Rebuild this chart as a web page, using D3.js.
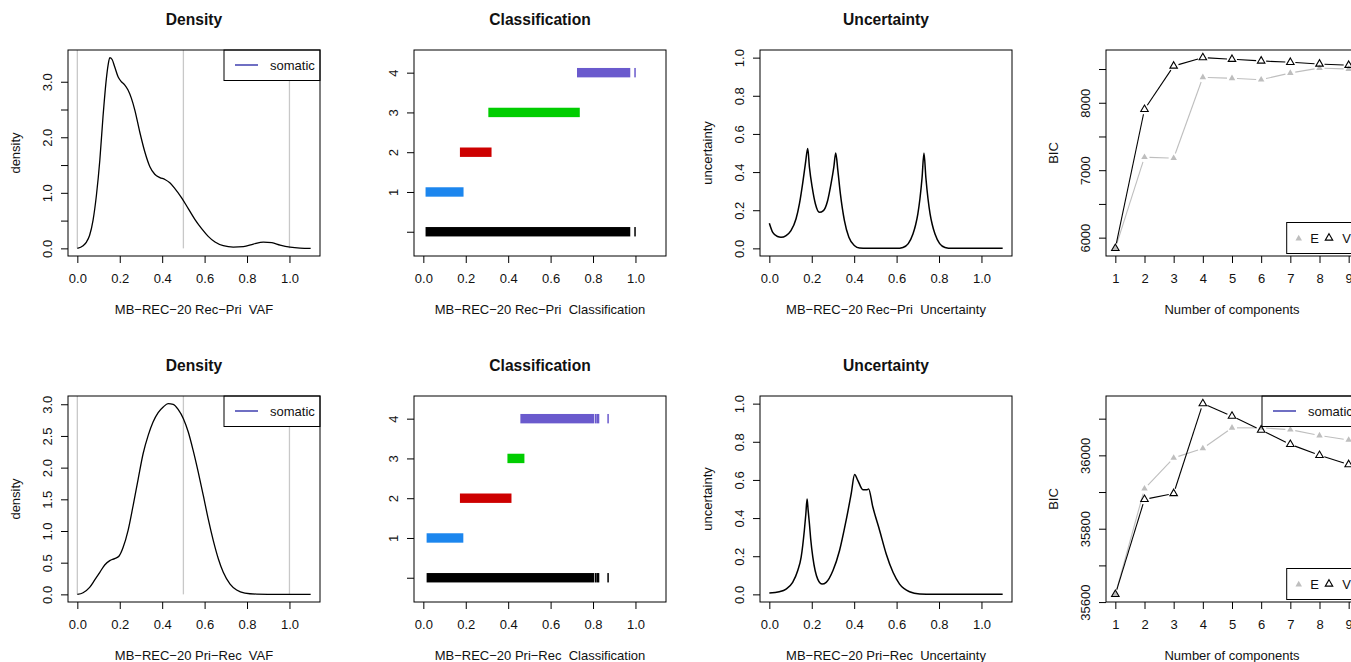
<!DOCTYPE html>
<html>
<head>
<meta charset="utf-8">
<script src="https://cdn.jsdelivr.net/npm/d3@7"></script>
<style>
body{margin:0;background:#fff;overflow:hidden;}
text{font-family:"Liberation Sans",Arial,Helvetica,sans-serif;fill:#111;white-space:pre;}
</style>
</head>
<body>
<script>
// values

var samples = ["MB\u2212REC\u221220 Rec\u2212Pri", "MB\u2212REC\u221220 Pri\u2212Rec"];

// density curves (VAF grid / density)
var vafTop = [0,0.027,0.043,0.058,0.074,0.09,0.106,0.121,0.137,0.145,0.153,0.164,0.176,0.192,0.208,0.224,0.239,0.255,0.271,0.294,0.318,0.342,0.365,0.389,0.413,0.436,0.46,0.491,0.523,0.554,0.586,0.617,0.649,0.688,0.735,0.783,0.83,0.877,0.917,0.956,1.003,1.05,1.1];
var densTop = [0,0.048,0.114,0.235,0.505,0.956,1.587,2.369,3.061,3.30,3.434,3.40,3.27,3.09,3.0,2.94,2.85,2.70,2.49,2.10,1.74,1.47,1.335,1.275,1.24,1.18,1.076,0.914,0.716,0.523,0.355,0.216,0.114,0.048,0.024,0.03,0.078,0.114,0.102,0.06,0.024,0.006,0];
var vafBot = [0,0.027,0.058,0.082,0.106,0.129,0.153,0.176,0.197,0.216,0.239,0.263,0.287,0.31,0.334,0.357,0.381,0.405,0.428,0.452,0.476,0.5,0.523,0.546,0.57,0.594,0.617,0.641,0.665,0.688,0.72,0.751,0.79,0.846,0.95,1.1];
var densBot = [0,0.026,0.11,0.227,0.348,0.464,0.532,0.564,0.606,0.743,1.007,1.402,1.824,2.219,2.509,2.72,2.868,2.957,3.01,3.0,2.915,2.773,2.562,2.272,1.929,1.56,1.191,0.849,0.559,0.348,0.163,0.069,0.021,0.005,0,0];
var vafRefLines = [0, 0.5, 1.0];

// uncertainty curves
var uncXTop = [0,0.016,0.039,0.055,0.079,0.102,0.126,0.142,0.157,0.17,0.181,0.189,0.202,0.217,0.236,0.255,0.275,0.291,0.304,0.313,0.323,0.335,0.354,0.375,0.402,0.425,0.46,0.6,0.63,0.655,0.677,0.69,0.7,0.71,0.72,0.729,0.738,0.748,0.758,0.768,0.781,0.803,0.828,0.86,1.1];
var uncTop  = [0.132,0.084,0.062,0.058,0.067,0.093,0.155,0.234,0.339,0.444,0.523,0.426,0.321,0.234,0.189,0.198,0.251,0.339,0.426,0.5,0.409,0.286,0.146,0.058,0.014,0.002,0,0,0.005,0.025,0.075,0.125,0.18,0.26,0.37,0.5,0.37,0.26,0.18,0.125,0.075,0.025,0.005,0,0];
var uncXBot = [0,0.047,0.079,0.11,0.134,0.15,0.165,0.172,0.178,0.183,0.189,0.195,0.205,0.228,0.249,0.268,0.3,0.331,0.362,0.386,0.402,0.417,0.441,0.461,0.468,0.488,0.52,0.551,0.583,0.614,0.661,0.709,0.772,1.1];
var uncBot  = [0.007,0.014,0.028,0.063,0.125,0.195,0.335,0.42,0.5,0.44,0.37,0.29,0.195,0.08,0.054,0.063,0.125,0.23,0.388,0.528,0.628,0.598,0.549,0.549,0.553,0.458,0.335,0.212,0.116,0.054,0.014,0.002,0,0];

// classification: VAF spans per row (row 0 = all variants, rows 1-4 = clusters)
var classRows = [0, 1, 2, 3, 4];
var classSpansTop = [
  [[0.014,0.972],[0.998,0.998]],
  [[0.014,0.186]],
  [[0.176,0.318]],
  [[0.31,0.734]],
  [[0.728,0.972],[0.998,0.998]]
];
var classSpansBot = [
  [[0.019,0.802],[0.812,0.814],[0.822,0.826],[0.871,0.871]],
  [[0.019,0.185]],
  [[0.176,0.412]],
  [[0.40,0.473]],
  [[0.461,0.802],[0.812,0.814],[0.822,0.826],[0.871,0.871]]
];

// BIC by number of components, models E and V
var components = [1, 2, 3, 4, 5, 6, 7, 8, 9];
var bicETop = [5841, 7193, 7178, 8377, 8362, 8342, 8441, 8515, 8500];
var bicVTop = [5841, 7902, 8545, 8669, 8645, 8620, 8600, 8575, 8556];
var bicEBot = [35621, 35909, 35993, 36019, 36075, 36075, 36070, 36054, 36042];
var bicVBot = [35621, 35880, 35896, 36141, 36107, 36069, 36030, 36000, 35975];

// ticks
var vafTicks = [0, 0.2, 0.4, 0.6, 0.8, 1.0];
var densTicks = [0, 0.5, 1, 1.5, 2, 2.5, 3];
var uncTicks = [0, 0.2, 0.4, 0.6, 0.8, 1.0];
var bicTicksTop = [6000, 6500, 7000, 7500, 8000, 8500];
var bicTicksBot = [35600, 35700, 35800, 35900, 36000, 36100];

// styles
var classColors = ["#000000", "#1C86EE", "#CD0000", "#00CD00", "#6A5ACD"];
var legendBlue = "#4b4bb4", bicGrey = "#bebebe";

var svg = d3.select("body").append("svg").attr("width", 1351).attr("height", 662);

var cell = 346, boxW = 252, boxH = 206, padL = 68, padT = 50;
var f1 = d3.format(".1f"), fd = d3.format("d");

function pad4(lo, hi){ var d = (hi - lo) * 0.04; return [lo - d, hi + d]; }

var clipN = 0;
function panel(col, row, xdom, ydom){
  var left = padL + cell*col, top = padT + cell*row;
  var g = svg.append("g").attr("transform", "translate(" + left + "," + top + ")");
  var id = "clip" + (clipN++);
  g.append("clipPath").attr("id", id).append("rect").attr("width", boxW).attr("height", boxH);
  var x = d3.scaleLinear().domain(xdom).range([0, boxW]),
      y = d3.scaleLinear().domain(ydom).range([boxH, 0]);
  var inner = g.append("g").attr("clip-path", "url(#" + id + ")");
  return {g: g, inner: inner, x: x, y: y};
}

function axes(p, xt, xfmt, yt, ylab, yfmt){
  var ax = p.g.append("g").attr("transform", "translate(0," + boxH + ")")
    .call(d3.axisBottom(p.x).tickValues(xt).tickSize(7).tickPadding(10.5).tickFormat(xfmt));
  ax.attr("font-size", 13).attr("font-family", null);
  ax.select(".domain").remove();
  var ay = p.g.append("g")
    .call(d3.axisLeft(p.y).tickValues(yt).tickSize(7)
      .tickFormat(function(d){ return ylab(d) ? yfmt(d) : ""; }));
  ay.attr("font-size", 13).attr("font-family", null);
  ay.select(".domain").remove();
  ay.selectAll("text").attr("x", null).attr("dy", null).attr("text-anchor", "middle")
    .attr("transform", "translate(-16,0) rotate(-90)");
}

function labels(p, title, xlab, ylab){
  if (title) p.g.append("text").attr("x", boxW/2).attr("y", -25).attr("text-anchor", "middle")
    .attr("font-size", 15.6).attr("font-weight", "bold").text(title);
  p.g.append("text").attr("x", boxW/2).attr("y", boxH + 58).attr("text-anchor", "middle")
    .attr("font-size", 13).text(xlab);
  if (ylab) p.g.append("text").attr("transform", "translate(-48," + boxH/2 + ") rotate(-90)")
    .attr("text-anchor", "middle").attr("font-size", 13).text(ylab);
}

function box(p){
  p.g.append("rect").attr("width", boxW).attr("height", boxH)
    .attr("fill", "none").attr("stroke", "#000").attr("stroke-width", 1);
}

function somaticLegend(p){
  var lg = p.g.append("g").attr("transform", "translate(" + (boxW - 96) + ",0)");
  lg.append("rect").attr("width", 96).attr("height", 30.5).attr("fill", "#fff").attr("stroke", "#000");
  lg.append("line").attr("x1", 11).attr("x2", 34).attr("y1", 15).attr("y2", 15)
    .attr("stroke", legendBlue).attr("stroke-width", 1.6);
  lg.append("text").attr("x", 46).attr("y", 15).attr("dy", "0.35em").attr("font-size", 13).text("somatic");
}

function curve(p, xs, ys, w){
  var line = d3.line().x(function(d, i){ return p.x(xs[i]); }).y(function(d){ return p.y(d); })
    .curve(d3.curveMonotoneX);
  p.inner.append("path").attr("d", line(ys)).attr("fill", "none").attr("stroke", "#000")
    .attr("stroke-width", w).attr("stroke-linejoin", "round");
}

// ---- density panels
function densityPanel(row, xs, ys, labelAll){
  var p = panel(0, row, pad4(0, 1.1), pad4(0, d3.max(ys)));
  p.inner.selectAll(".ref").data(vafRefLines).enter().append("line")
    .attr("x1", function(d){ return p.x(d); }).attr("x2", function(d){ return p.x(d); })
    .attr("y1", p.y(0)).attr("y2", 0).attr("stroke", "#c8c8c8").attr("stroke-width", 1.3);
  curve(p, xs, ys, 1.3);
  axes(p, vafTicks, f1, densTicks, function(d){ return labelAll || d % 1 === 0; }, f1);
  labels(p, "Density", samples[row] + "  VAF", "density");
  somaticLegend(p);
  box(p);
}
densityPanel(0, vafTop, densTop, false);
densityPanel(1, vafBot, densBot, true);

// ---- classification panels
function classPanel(row, spans){
  var p = panel(1, row, pad4(0, 1.1), [-0.61, 4.57]);
  classRows.forEach(function(r){
    p.inner.selectAll(".r" + r).data(spans[r]).enter().append("rect")
      .attr("x", function(d){ return p.x(d[0]) - 0.75; })
      .attr("width", function(d){ return p.x(d[1]) - p.x(d[0]) + 1.5; })
      .attr("y", p.y(r) - 4.7).attr("height", 9.4)
      .attr("fill", classColors[r]);
  });
  axes(p, vafTicks, f1, classRows, function(d){ return d > 0; }, fd);
  labels(p, "Classification", samples[row] + "  Classification", null);
  box(p);
}
classPanel(0, classSpansTop);
classPanel(1, classSpansBot);

// ---- uncertainty panels
function uncPanel(row, xs, ys){
  var p = panel(2, row, pad4(0, 1.1), pad4(0, 1));
  curve(p, xs, ys, 1.5);
  axes(p, vafTicks, f1, uncTicks, function(){ return true; }, f1);
  labels(p, "Uncertainty", samples[row] + "  Uncertainty", "uncertainty");
  box(p);
}
uncPanel(0, uncXTop, uncTop);
uncPanel(1, uncXBot, uncBot);

// ---- BIC panels
function tri(s){
  var h = s * Math.sqrt(3) / 2;
  return "M0," + (-2*h/3) + "L" + (s/2) + "," + (h/3) + "L" + (-s/2) + "," + (h/3) + "Z";
}
function bicSeries(p, vals, colour){
  var pts = vals.map(function(v, i){ return [p.x(components[i]), p.y(v)]; });
  var gap = 5;
  for (var i = 0; i < pts.length - 1; i++){
    var a = pts[i], b = pts[i+1], dx = b[0] - a[0], dy = b[1] - a[1], L = Math.sqrt(dx*dx + dy*dy);
    if (L <= 2*gap) continue;
    p.inner.append("line")
      .attr("x1", a[0] + dx*gap/L).attr("y1", a[1] + dy*gap/L)
      .attr("x2", b[0] - dx*gap/L).attr("y2", b[1] - dy*gap/L)
      .attr("stroke", colour).attr("stroke-width", 1.1);
  }
  return pts;
}
function bicPanel(row, e, v, yt, labStep, withSomatic){
  var all = e.concat(v);
  var p = panel(3, row, pad4(1, 9), pad4(d3.min(all), d3.max(all)));
  var pe = bicSeries(p, e, bicGrey), pv = bicSeries(p, v, "#000");
  p.inner.selectAll(".pe").data(pe).enter().append("path")
    .attr("transform", function(d){ return "translate(" + d[0] + "," + d[1] + ")"; })
    .attr("d", tri(6.5)).attr("fill", bicGrey);
  p.inner.selectAll(".pv").data(pv).enter().append("path")
    .attr("transform", function(d){ return "translate(" + d[0] + "," + d[1] + ")"; })
    .attr("d", tri(7.5)).attr("fill", "none").attr("stroke", "#000").attr("stroke-width", 1.1);
  axes(p, components, fd, yt, function(d){ return d % labStep === 0; }, fd);
  labels(p, null, "Number of components", "BIC");
  // E / V legend
  var lg = p.g.append("g").attr("transform", "translate(" + (boxW - 71.3) + "," + (boxH - 33.5) + ")");
  lg.append("rect").attr("width", 68.3).attr("height", 31).attr("fill", "#fff").attr("stroke", "#000");
  lg.append("path").attr("transform", "translate(12,16)").attr("d", tri(6.5)).attr("fill", bicGrey);
  lg.append("text").attr("x", 23.5).attr("y", 15.5).attr("dy", "0.35em").attr("font-size", 13).text("E");
  lg.append("path").attr("transform", "translate(42.3,15.5)").attr("d", tri(7.5))
    .attr("fill", "none").attr("stroke", "#000").attr("stroke-width", 1.1);
  lg.append("text").attr("x", 55.5).attr("y", 15.5).attr("dy", "0.35em").attr("font-size", 13).text("V");
  if (withSomatic) somaticLegend(p);
  box(p);
}
bicPanel(0, bicETop, bicVTop, bicTicksTop, 1000, false);
bicPanel(1, bicEBot, bicVBot, bicTicksBot, 200, true);
</script>
</body>
</html>
